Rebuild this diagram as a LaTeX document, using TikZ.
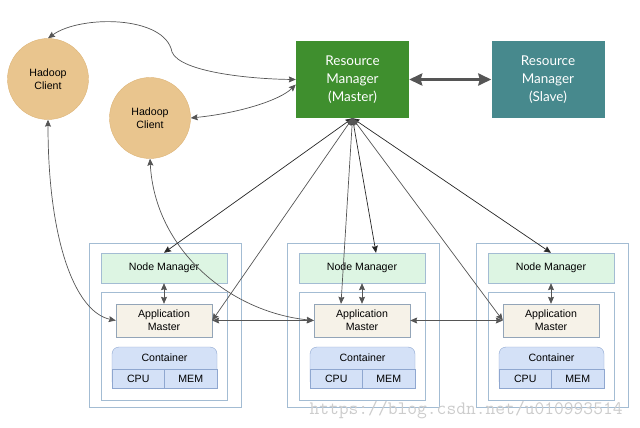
\documentclass[tikz,border=0pt]{standalone}
\usepackage{fontspec}
\setmainfont{Liberation Sans}
\newfontfamily\latofont{Lato}
\usetikzlibrary{arrows.meta}
\definecolor{clientfill}{HTML}{E9C58E}
\definecolor{clientline}{HTML}{DDB579}
\definecolor{masterfill}{HTML}{3F8F2E}
\definecolor{slavefill}{HTML}{47898D}
\definecolor{boxline}{HTML}{A3BCD3}
\definecolor{nmfill}{HTML}{DDF5E3}
\definecolor{amfill}{HTML}{F6F2E8}
\definecolor{amline}{HTML}{93A5B8}
\definecolor{ctfill}{HTML}{D4E1F7}
\definecolor{ctline}{HTML}{8FA7D0}
\definecolor{linkgray}{HTML}{555555}
\begin{document}
\begin{tikzpicture}  % ------ YARN : Resource Manager et Node Managers ------
      [x=1pt,y=-1pt,>={Stealth[length=7pt,width=6pt,inset=1pt]},
       every node/.style={font=\fontsize{10.6}{12.7}\selectfont,align=center},
       client/.style={circle,fill=clientfill,draw=clientline,minimum size=81pt,inner sep=0pt},
       rm/.style={minimum width=113pt,minimum height=77pt,text=white,font=\latofont\fontsize{13.5}{18}\selectfont},
       groupbox/.style={draw=boxline,fill=white,line width=.7pt},
       nm/.style={draw=boxline,fill=nmfill,minimum width=126pt,minimum height=30pt,inner sep=0pt},
       am/.style={draw=amline,fill=amfill,minimum width=96pt,minimum height=33pt,inner sep=0pt},
       cell/.style={draw=ctline,fill=ctfill,minimum width=52.5pt,minimum height=19pt,inner sep=0pt},
       link/.style={<->,draw=linkgray,line width=.7pt}]
    \useasboundingbox (0,0) rectangle (640,428);
    % clients et resource managers
    \node [client] (cl1) at (48,79) {Hadoop\\Client};
    \node [client] (cl2) at (150,118) {Hadoop\\Client};
    \node [rm,fill=masterfill] (rmm) at (352.5,79.5) {Resource\\Manager\\(Master)};
    \node [rm,fill=slavefill] (rms) at (548,79.5) {Resource\\Manager\\(Slave)};
    \draw [<->,draw=linkgray,line width=3pt,>={Stealth[length=13pt,width=12pt,inset=1.5pt]}] (rmm) -- (rms);
    % les trois noeuds
    \foreach \g/\gx in {1/89,2/287,3/476}{
      \draw [groupbox] (\gx,243) rectangle (\gx+152,407);
      \draw [groupbox] (\gx+12,292) rectangle (\gx+138,400);
      \node [nm] (nm\g) at (\gx+75,268) {Node Manager};
      \node [am] (am\g) at (\gx+75,320.5) {Application\\Master};
      \draw [draw=ctline,fill=ctfill,rounded corners=7pt] (\gx+23,347) rectangle (\gx+128,388);
      \node (ct\g) at (\gx+75.5,358) {Container};
      \node [cell] (cpu\g) at (\gx+49.25,378.5) {CPU};
      \node [cell] (mem\g) at (\gx+101.75,378.5) {MEM};
      \draw [link] (nm\g) -- (am\g);
    }
    % liaisons
    \draw [link] (cl1.north) .. controls (80,15) and (165,15) .. (172,52)
                 .. controls (180,72) and (250,79) .. (rmm.west);
    \draw [link] (cl2.east) .. controls (240,113) and (280,100) .. ([yshift=-5pt]rmm.west);
    \draw [link] (cl1.south) .. controls (48,240) and (75,312) .. (am1.west);
    \draw [link] (cl2.south) .. controls (155,250) and (230,312) .. (am2.west);
    \draw [link,draw=black!85] (rmm.south) -- (nm1.north);
    \draw [link,draw=black!85] (rmm.south) -- ([xshift=14pt]nm2.north);
    \draw [link,draw=black!85] (rmm.south) -- (nm3.north);
    \draw [link] (rmm.south) -- (am1.east);
    \draw [link] (rmm.south) -- ([xshift=-21pt]am2.north);
    \draw [link] (rmm.south) -- (am3.west);
    \draw [link] (am1) -- (am2);
    \draw [link] (am2) -- (am3);
    \node [anchor=base west,text=black!20,font=\ttfamily\fontsize{19}{19}\selectfont] (wm) at (306,414) {https://blog.csdn.net/u010993514};
\end{tikzpicture}
\end{document}
